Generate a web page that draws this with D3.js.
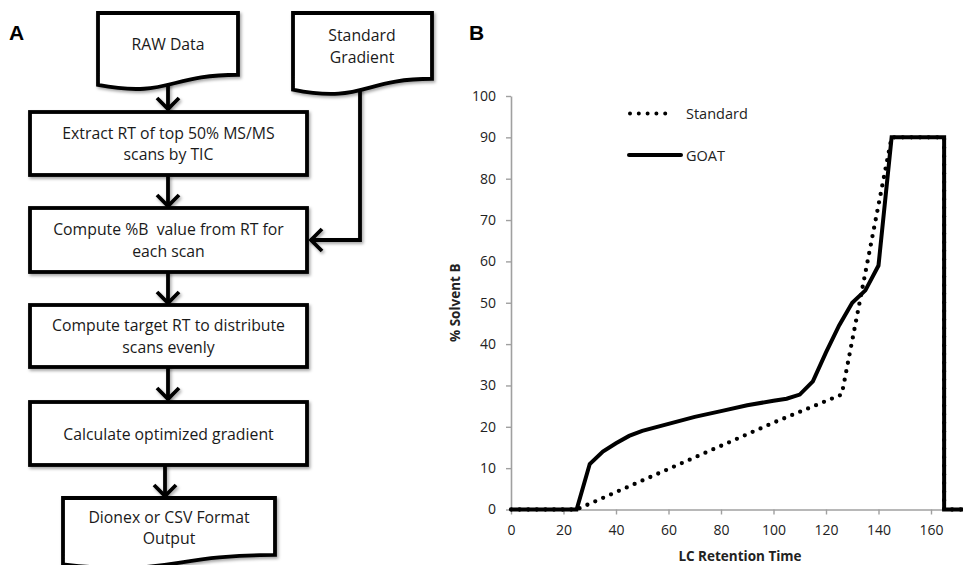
<!DOCTYPE html>
<html lang="en">
<head>
<meta charset="UTF-8">
<title>GOAT gradient</title>
<script src="https://d3js.org/d3.v7.min.js"></script>
<style>
  body { margin: 0; background: #fff; }
  svg { display: block; }
  .box-text { font-family: "Open Sans", sans-serif; font-size: 15.8px; fill: #1a1a1a; white-space: pre; }
  .axis-title { font-family: "Open Sans", sans-serif; font-size: 13.5px; font-weight: bold; fill: #222; }
  .panel { font-family: "Liberation Sans", Arial, sans-serif; font-size: 21px; font-weight: bold; }
  .legend { font-family: "Open Sans", sans-serif; font-size: 14.5px; fill: #222; }
</style>
</head>
<body>
<svg id="fig" width="963" height="565"></svg>
<script>
// --- flowchart steps (panel A)
const stepLabels = [
  ["Extract RT of top 50% MS/MS", "scans by TIC"],
  ["Compute %B  value from RT for", "each scan"],
  ["Compute target RT to distribute", "scans evenly"],
  ["Calculate optimized gradient"]
];
const inputLabel = ["RAW Data"];
const gradientLabel = ["Standard", "Gradient"];
const outputLabel = ["Dionex or CSV Format", "Output"];

// --- gradient data (panel B)
const goatTime = [0, 25, 30, 35, 40, 45, 50, 60, 70, 80, 90, 100, 105, 110, 115, 120, 125, 130, 135, 140, 145, 165, 165, 180];
const goatB    = [0, 0, 11, 14, 16, 17.8, 19, 20.7, 22.4, 23.8, 25.2, 26.3, 26.8, 27.8, 31, 38, 44.5, 50, 53, 59, 90, 90, 0, 0];
const stdTime  = [0, 25, 60, 100, 126, 145, 165, 165, 180];
const stdB     = [0, 0, 9.8, 21, 27.8, 90, 90, 0, 0];
const xTicks = [0, 20, 40, 60, 80, 100, 120, 140, 160];
const yTicks = [0, 10, 20, 30, 40, 50, 60, 70, 80, 90, 100];

const svg = d3.select("#fig");
const defs = svg.append("defs");
const shadow = defs.append("filter").attr("id", "shadow")
    .attr("filterUnits", "userSpaceOnUse")
    .attr("x", 0).attr("y", 0).attr("width", 963).attr("height", 565);
shadow.append("feDropShadow").attr("dx", 1.5).attr("dy", 2).attr("stdDeviation", 1.5)
    .attr("flood-color", "#000").attr("flood-opacity", 0.35);

// ---------- Panel A ----------
const A = svg.append("g");
A.append("text").attr("class", "panel").attr("x", 9).attr("y", 40).text("A");

// office style "document" shape
function docPath(x, y, w, h) {
  return `M${x},${y} L${x + w},${y} L${x + w},${y + 0.802 * h} ` +
    `C${x + w / 2},${y + 0.802 * h} ${x + w / 2},${y + 1.107 * h} ${x},${y + 0.934 * h} Z`;
}

function lines(g, arr, cx, cy, gap) {
  const n = arr.length;
  arr.forEach((t, i) => {
    g.append("text").attr("class", "box-text")
      .attr("x", cx).attr("y", cy + (i - (n - 1) / 2) * gap)
      .attr("text-anchor", "middle").attr("dominant-baseline", "central")
      .text(t);
  });
}

const shapeStyle = s => s.attr("fill", "#fff").attr("stroke", "#000")
    .attr("stroke-width", 3.8).attr("stroke-linejoin", "miter").attr("filter", "url(#shadow)");

// arrow helper: line + open chevron head
function arrow(pts, dir) {
  A.append("path").attr("d", d3.line()(pts)).attr("fill", "none")
    .attr("stroke", "#000").attr("stroke-width", 3.8).attr("filter", "url(#shadow)");
  const [tx, ty] = pts[pts.length - 1];
  const head = dir === "down"
    ? [[tx - 11, ty - 12], [tx, ty - 1], [tx + 11, ty - 12]]
    : [[tx + 12, ty - 11], [tx + 1, ty], [tx + 12, ty + 11]];
  A.append("path").attr("d", d3.line()(head)).attr("fill", "none")
    .attr("stroke", "#000").attr("stroke-width", 3.8).attr("stroke-linejoin", "miter")
    .attr("filter", "url(#shadow)");
}

// arrows first so shapes sit on top
arrow([[168, 80], [168, 110]], "down");
arrow([[168, 175], [168, 207]], "down");
arrow([[168, 271], [168, 304]], "down");
arrow([[168, 366], [168, 400]], "down");
arrow([[165, 465], [165, 497]], "down");
arrow([[360, 80], [360, 240], [310, 240]], "left");

A.append("path").attr("d", docPath(98, 13, 140, 77)).call(shapeStyle);
lines(A, inputLabel, 168, 44, 21);
A.append("path").attr("d", docPath(293, 13, 139, 82)).call(shapeStyle);
lines(A, gradientLabel, 362, 46, 22);

const boxes = [[112, 175], [208, 272], [305, 367], [402, 465]];
boxes.forEach(([top, bot], i) => {
  A.append("rect").attr("x", 30).attr("y", top).attr("width", 277).attr("height", bot - top).call(shapeStyle);
  lines(A, stepLabels[i], 168.5, (top + bot) / 2, 21.5);
});

A.append("path").attr("d", docPath(63, 498, 212, 71)).call(shapeStyle);
lines(A, outputLabel, 169, 527.5, 21.5);

// ---------- Panel B ----------
const B = svg.append("g");
B.append("text").attr("class", "panel").attr("x", 469).attr("y", 40).text("B");

const x = d3.scaleLinear().domain([0, 180]).range([511, 983.5]);
const y = d3.scaleLinear().domain([0, 100]).range([509.5, 96]);

const xAxis = B.append("g").attr("transform", `translate(0,${y(0)})`)
  .call(d3.axisBottom(x).tickValues(xTicks).tickSize(5).tickSizeOuter(0).tickPadding(11));
const yAxis = B.append("g").attr("transform", `translate(${x(0)},0)`)
  .call(d3.axisLeft(y).tickValues(yTicks).tickSize(5).tickSizeOuter(0).tickPadding(10));
[xAxis, yAxis].forEach(a => {
  a.select(".domain").attr("stroke", "#a0a0a0").attr("stroke-width", 1.6);
  a.selectAll(".tick line").attr("stroke", "#a0a0a0").attr("stroke-width", 1.4);
  a.selectAll(".tick text")
    .style("font-family", '"Open Sans", sans-serif')
    .style("font-size", "14px")
    .style("fill", "#222");
});

B.append("text").attr("class", "axis-title").attr("x", 740).attr("y", 561)
  .attr("text-anchor", "middle").text("LC Retention Time");
B.append("text").attr("class", "axis-title")
  .attr("transform", `translate(460,${y(50)}) rotate(-90)`)
  .attr("text-anchor", "middle").text("% Solvent B");

const line = d3.line().x(d => x(d[0])).y(d => y(d[1]));
const stdPts = stdTime.map((t, i) => [t, stdB[i]]);
const goatPts = goatTime.map((t, i) => [t, goatB[i]]);

B.append("path").attr("d", line(stdPts)).attr("fill", "none").attr("stroke", "#000")
  .attr("stroke-width", 4.3).attr("stroke-linecap", "round").attr("stroke-dasharray", "0 8.6");
B.append("path").attr("d", line(goatPts)).attr("fill", "none").attr("stroke", "#000")
  .attr("stroke-width", 4).attr("stroke-linejoin", "miter");

// legend
const leg = B.append("g");
leg.append("line").attr("x1", 630).attr("x2", 674).attr("y1", 113.5).attr("y2", 113.5)
  .attr("stroke", "#000").attr("stroke-width", 4).attr("stroke-linecap", "round")
  .attr("stroke-dasharray", "0 8.8");
leg.append("text").attr("class", "legend").attr("x", 686).attr("y", 113.5)
  .attr("dominant-baseline", "central").text("Standard");
leg.append("line").attr("x1", 629).attr("x2", 681).attr("y1", 155).attr("y2", 155)
  .attr("stroke", "#000").attr("stroke-width", 4).attr("stroke-linecap", "round");
leg.append("text").attr("class", "legend").attr("x", 686).attr("y", 155)
  .attr("dominant-baseline", "central").text("GOAT");
</script>
</body>
</html>
